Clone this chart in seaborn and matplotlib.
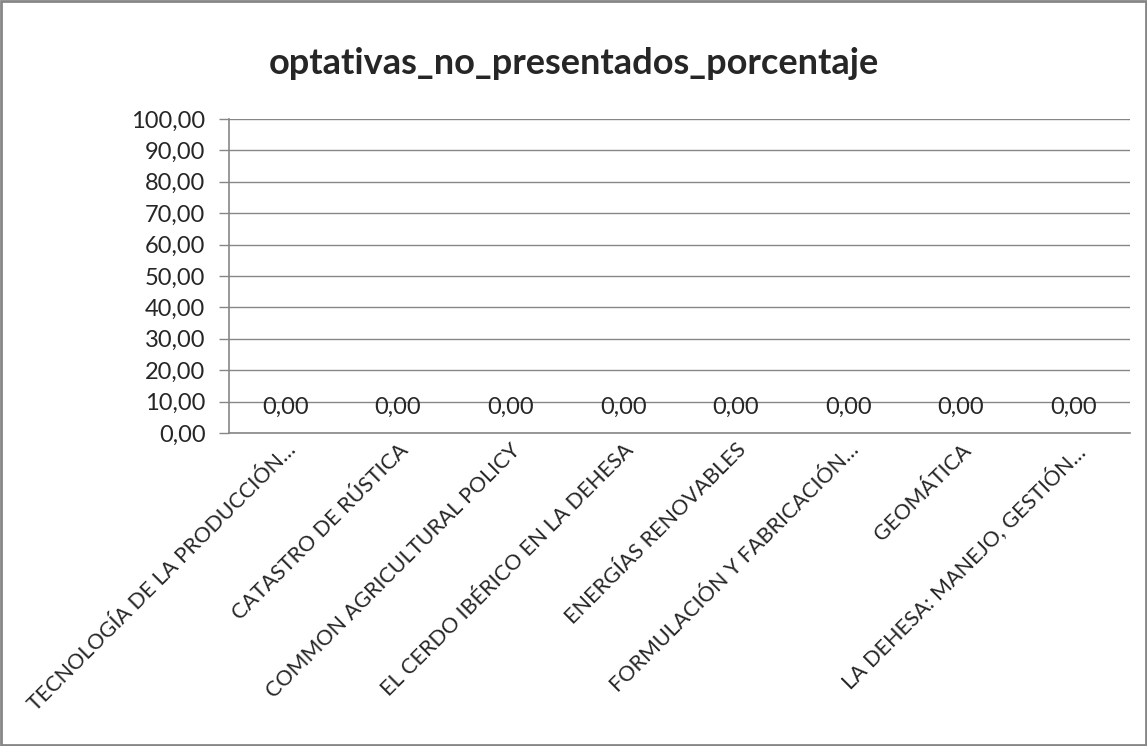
import matplotlib
matplotlib.use("Agg")
import matplotlib.pyplot as plt
import matplotlib.ticker as mticker
import seaborn as sns
import pandas as pd

# Data
CATEGORIES = ['TECNOLOGÍA DE LA PRODUCCIÓN…', 'CATASTRO DE RÚSTICA', 'COMMON AGRICULTURAL POLICY',
              'EL CERDO IBÉRICO EN LA DEHESA', 'ENERGÍAS RENOVABLES', 'FORMULACIÓN Y FABRICACIÓN…',
              'GEOMÁTICA', 'LA DEHESA: MANEJO, GESTIÓN…']
VALUES = [0.0, 0.0, 0.0, 0.0, 0.0, 0.0, 0.0, 0.0]
TITLE = 'optativas_no_presentados_porcentaje'

AXIS_GRAY = '#868686'

sns.set_style('white')
plt.rcParams['font.family'] = ['Lato', 'DejaVu Sans']

df = pd.DataFrame({'cat': CATEGORIES, 'val': VALUES})

fig = plt.figure(figsize=(11.47, 7.46), dpi=100)
ax = fig.add_axes([229 / 1147, 1 - 433 / 746, (1130 - 229) / 1147, (433 - 119) / 746])

sns.barplot(data=df, x='cat', y='val', color='#4F81BD', ax=ax, width=0.6)

ax.set_ylim(0, 100)
ax.set_xlim(-0.5, len(CATEGORIES) - 0.5)
ax.yaxis.set_major_locator(mticker.MultipleLocator(10))
ax.yaxis.set_major_formatter(mticker.FuncFormatter(lambda v, p: f'{v:.2f}'.replace('.', ',')))
ax.grid(axis='y', color=AXIS_GRAY, linewidth=1)
ax.set_axisbelow(True)

for side in ['top', 'right']:
    ax.spines[side].set_visible(False)
for side in ['left', 'bottom']:
    ax.spines[side].set_color(AXIS_GRAY)
    ax.spines[side].set_linewidth(1.2)

ax.tick_params(axis='y', direction='out', length=7, color=AXIS_GRAY, width=1,
               labelsize=17, left=True, pad=10)
ax.set_xticks(range(len(CATEGORIES)))
ax.set_xticklabels(CATEGORIES, rotation=45, ha='right', rotation_mode='anchor', fontsize=15.5)
ax.tick_params(axis='x', length=0, pad=5)
ax.set_xticks([i - 0.5 for i in range(len(CATEGORIES) + 1)], minor=True)
ax.tick_params(axis='x', which='minor', direction='out', length=7, color=AXIS_GRAY, width=1)

ax.set_xlabel('')
ax.set_ylabel('')

labels = [f'{v:.2f}'.replace('.', ',') for v in VALUES]
ax.bar_label(ax.containers[0], labels=labels, padding=11, fontsize=17)

fig.text(0.5, 1 - 63 / 746, TITLE, ha='center', va='center', fontsize=26, fontweight='bold')

fig.patches.append(plt.Rectangle((0.001, 0.001), 0.998, 0.997, transform=fig.transFigure,
                                 fill=False, edgecolor=AXIS_GRAY, linewidth=2))

fig.savefig('out.png', dpi=100)
